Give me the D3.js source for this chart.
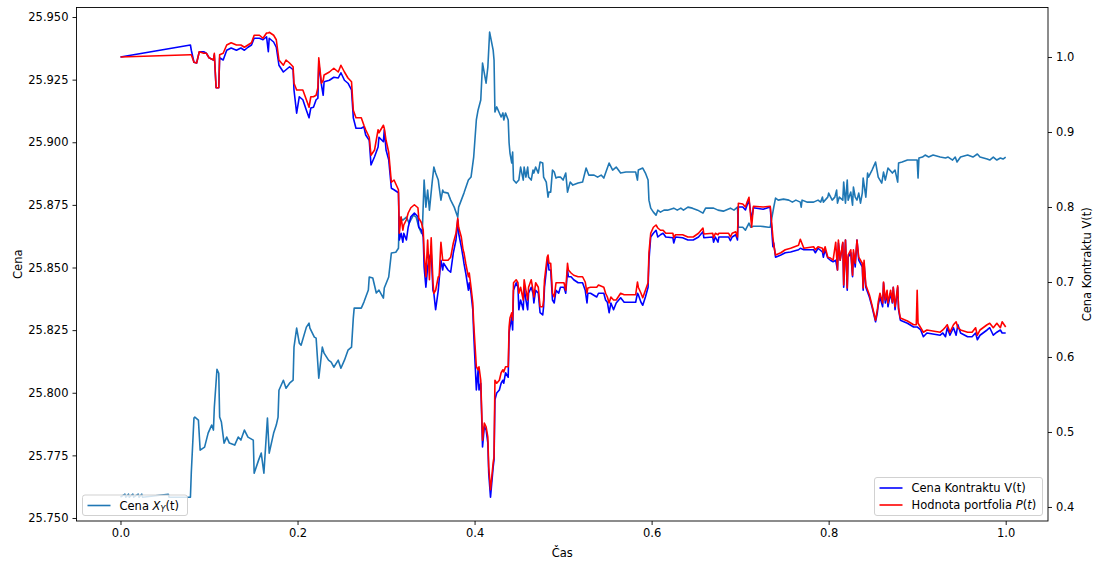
<!DOCTYPE html>
<html>
<head>
<meta charset="utf-8">
<script src="https://cdn.jsdelivr.net/npm/d3@7/dist/d3.min.js"></script>
<style>
  body { margin: 0; background: #fff; }
  svg text { font-family: "DejaVu Sans", sans-serif; font-size: 11.5px; fill: #000; }
</style>
</head>
<body>
<svg id="chart" width="1097" height="565"></svg>
<script>

// Spot price X_Y(t): [time, price] (left axis).
const spotRows = [
  [0.000, 25.7583], [0.005, 25.7595], [0.006, 25.7583], [0.009, 25.7595], [0.010, 25.7583],
  [0.014, 25.7595], [0.015, 25.7583], [0.020, 25.7595], [0.021, 25.7583], [0.024, 25.7595],
  [0.025, 25.7583], [0.054, 25.7595], [0.055, 25.7583], [0.079, 25.7583], [0.080, 25.7683],
  [0.083, 25.7899], [0.084, 25.7903], [0.088, 25.7891], [0.090, 25.7771], [0.095, 25.7783],
  [0.099, 25.7839], [0.103, 25.7871], [0.105, 25.7851], [0.106, 25.7942], [0.109, 25.8094],
  [0.111, 25.8078], [0.112, 25.7903], [0.114, 25.7883], [0.117, 25.7799], [0.120, 25.7823],
  [0.123, 25.7799], [0.129, 25.7791], [0.133, 25.7823], [0.136, 25.7811], [0.140, 25.7851],
  [0.144, 25.7823], [0.150, 25.7811], [0.151, 25.7679], [0.156, 25.7731], [0.159, 25.7759],
  [0.162, 25.7679], [0.166, 25.7899], [0.168, 25.7759], [0.173, 25.7839], [0.176, 25.7871],
  [0.178, 25.7903], [0.179, 25.8010], [0.184, 25.8050], [0.187, 25.8018], [0.191, 25.8038],
  [0.195, 25.8050], [0.196, 25.8182], [0.199, 25.8258], [0.202, 25.8198], [0.204, 25.8190],
  [0.210, 25.8262], [0.213, 25.8278], [0.214, 25.8258], [0.219, 25.8222], [0.221, 25.8218],
  [0.224, 25.8058], [0.228, 25.8182], [0.230, 25.8158], [0.235, 25.8130], [0.238, 25.8122],
  [0.241, 25.8102], [0.246, 25.8130], [0.249, 25.8098], [0.253, 25.8130], [0.257, 25.8170],
  [0.261, 25.8182], [0.263, 25.8298], [0.264, 25.8338], [0.272, 25.8338], [0.275, 25.8362],
  [0.280, 25.8410], [0.281, 25.8462], [0.285, 25.8458], [0.289, 25.8398], [0.292, 25.8410],
  [0.297, 25.8378], [0.298, 25.8418], [0.303, 25.8462], [0.306, 25.8558], [0.311, 25.8561],
  [0.314, 25.8577], [0.315, 25.8701], [0.319, 25.8689], [0.323, 25.8701], [0.326, 25.8677],
  [0.331, 25.8709], [0.334, 25.8701], [0.337, 25.8661], [0.340, 25.8637], [0.341, 25.8649],
  [0.343, 25.8849], [0.345, 25.8741], [0.347, 25.8809], [0.349, 25.8729], [0.352, 25.8837],
  [0.354, 25.8901], [0.356, 25.8877], [0.359, 25.8849], [0.360, 25.8821], [0.362, 25.8769],
  [0.364, 25.8809], [0.365, 25.8801], [0.370, 25.8797], [0.373, 25.8769], [0.377, 25.8741],
  [0.381, 25.8701], [0.382, 25.8741], [0.385, 25.8769], [0.388, 25.8797], [0.393, 25.8849],
  [0.396, 25.8861], [0.399, 25.8941], [0.402, 25.9089], [0.404, 25.9129], [0.407, 25.9169],
  [0.409, 25.9316], [0.411, 25.9276], [0.413, 25.9236], [0.415, 25.9300], [0.417, 25.9440],
  [0.421, 25.9368], [0.422, 25.9328], [0.423, 25.9121], [0.425, 25.9141], [0.428, 25.9117],
  [0.430, 25.9101], [0.432, 25.9117], [0.433, 25.9089], [0.435, 25.9117], [0.438, 25.9089],
  [0.439, 25.8997], [0.440, 25.8957], [0.442, 25.8917], [0.443, 25.8961], [0.444, 25.8849],
  [0.447, 25.8837], [0.450, 25.8849], [0.452, 25.8901], [0.455, 25.8849], [0.456, 25.8901],
  [0.458, 25.8861], [0.460, 25.8901], [0.461, 25.8861], [0.464, 25.8849], [0.466, 25.8889],
  [0.467, 25.8877], [0.469, 25.8901], [0.472, 25.8877], [0.474, 25.8921], [0.477, 25.8917],
  [0.478, 25.8861], [0.481, 25.8841], [0.483, 25.8781], [0.484, 25.8801], [0.486, 25.8801],
  [0.488, 25.8889], [0.490, 25.8881], [0.492, 25.8857], [0.494, 25.8861], [0.497, 25.8861],
  [0.500, 25.8849], [0.503, 25.8877], [0.505, 25.8801], [0.508, 25.8841], [0.511, 25.8829],
  [0.517, 25.8837], [0.522, 25.8841], [0.526, 25.8897], [0.529, 25.8869], [0.535, 25.8869],
  [0.539, 25.8861], [0.543, 25.8869], [0.546, 25.8857], [0.550, 25.8897], [0.552, 25.8917],
  [0.556, 25.8889], [0.560, 25.8901], [0.565, 25.8877], [0.571, 25.8881], [0.582, 25.8881],
  [0.584, 25.8849], [0.585, 25.8889], [0.590, 25.8897], [0.593, 25.8877], [0.596, 25.8849],
  [0.597, 25.8769], [0.599, 25.8737], [0.602, 25.8721], [0.605, 25.8709], [0.607, 25.8729],
  [0.610, 25.8721], [0.614, 25.8729], [0.618, 25.8729], [0.625, 25.8737], [0.629, 25.8729],
  [0.633, 25.8737], [0.636, 25.8729], [0.641, 25.8741], [0.646, 25.8737], [0.652, 25.8729],
  [0.658, 25.8717], [0.661, 25.8737], [0.670, 25.8737], [0.675, 25.8729], [0.681, 25.8725],
  [0.689, 25.8737], [0.693, 25.8729], [0.697, 25.8741], [0.698, 25.8661], [0.703, 25.8661],
  [0.706, 25.8649], [0.710, 25.8677], [0.712, 25.8661], [0.715, 25.8665], [0.723, 25.8665],
  [0.732, 25.8661], [0.734, 25.8661], [0.738, 25.8741], [0.740, 25.8777], [0.743, 25.8769],
  [0.749, 25.8773], [0.755, 25.8769], [0.759, 25.8761], [0.763, 25.8769], [0.768, 25.8761],
  [0.769, 25.8741], [0.770, 25.8769], [0.776, 25.8761], [0.783, 25.8761], [0.788, 25.8769],
  [0.791, 25.8761], [0.793, 25.8781], [0.794, 25.8761], [0.799, 25.8781], [0.800, 25.8797],
  [0.804, 25.8769], [0.807, 25.8781], [0.809, 25.8809], [0.810, 25.8757], [0.812, 25.8781],
  [0.816, 25.8769], [0.817, 25.8841], [0.819, 25.8757], [0.821, 25.8849], [0.822, 25.8769],
  [0.825, 25.8801], [0.827, 25.8749], [0.828, 25.8821], [0.830, 25.8781], [0.832, 25.8769],
  [0.834, 25.8797], [0.836, 25.8757], [0.838, 25.8797], [0.839, 25.8857], [0.842, 25.8781],
  [0.844, 25.8877], [0.845, 25.8861], [0.849, 25.8889], [0.853, 25.8921], [0.855, 25.8881],
  [0.856, 25.8861], [0.860, 25.8837], [0.862, 25.8881], [0.864, 25.8849], [0.867, 25.8897],
  [0.872, 25.8877], [0.875, 25.8889], [0.878, 25.8841], [0.879, 25.8917], [0.883, 25.8921],
  [0.889, 25.8929], [0.895, 25.8929], [0.900, 25.8929], [0.901, 25.8857], [0.902, 25.8937],
  [0.906, 25.8941], [0.909, 25.8949], [0.913, 25.8941], [0.918, 25.8949], [0.926, 25.8941],
  [0.932, 25.8937], [0.935, 25.8941], [0.940, 25.8929], [0.943, 25.8941], [0.945, 25.8921],
  [0.949, 25.8941], [0.957, 25.8949], [0.963, 25.8941], [0.968, 25.8953], [0.971, 25.8941],
  [0.979, 25.8933], [0.982, 25.8929], [0.986, 25.8941], [0.990, 25.8929], [0.994, 25.8937],
  [0.997, 25.8933], [1.000, 25.8941]
]

// Contract V(t) and portfolio P(t): [time, V, P] (right axis).
const contractRows = [
  [0.000, 1.000, 1.000], [0.079, 1.016, 1.003], [0.080, 1.009, 1.003], [0.083, 0.993, 0.993],
  [0.086, 0.992, 0.992], [0.089, 1.007, 1.007], [0.094, 1.007, 1.005], [0.097, 1.005, 1.005],
  [0.100, 0.999, 0.999], [0.105, 0.996, 0.996], [0.106, 1.003, 1.005], [0.108, 0.959, 0.959],
  [0.111, 0.959, 0.959], [0.112, 0.999, 1.003], [0.116, 0.996, 1.005], [0.120, 1.009, 1.016],
  [0.125, 1.012, 1.019], [0.131, 1.009, 1.016], [0.136, 1.012, 1.016], [0.140, 1.009, 1.013],
  [0.144, 1.013, 1.016], [0.148, 1.016, 1.019], [0.151, 1.025, 1.029], [0.157, 1.025, 1.029],
  [0.161, 1.023, 1.025], [0.165, 1.027, 1.032], [0.167, 1.007, 1.032], [0.168, 1.025, 1.033],
  [0.173, 1.020, 1.029], [0.176, 1.013, 1.023], [0.179, 0.989, 0.996], [0.184, 0.980, 0.989],
  [0.187, 0.983, 0.996], [0.191, 0.987, 0.992], [0.195, 0.983, 0.987], [0.196, 0.956, 0.965],
  [0.199, 0.925, 0.956], [0.202, 0.947, 0.956], [0.206, 0.943, 0.956], [0.210, 0.929, 0.943],
  [0.213, 0.919, 0.933], [0.215, 0.932, 0.947], [0.218, 0.933, 0.947], [0.221, 0.943, 0.949],
  [0.223, 0.945, 0.959], [0.224, 0.992, 0.999], [0.227, 0.963, 0.965], [0.229, 0.949, 0.969],
  [0.230, 0.967, 0.976], [0.236, 0.969, 0.980], [0.241, 0.973, 0.985], [0.246, 0.972, 0.980],
  [0.249, 0.979, 0.989], [0.253, 0.969, 0.980], [0.257, 0.965, 0.972], [0.261, 0.956, 0.967],
  [0.263, 0.919, 0.929], [0.266, 0.905, 0.919], [0.272, 0.905, 0.919], [0.275, 0.907, 0.909],
  [0.277, 0.896, 0.903], [0.281, 0.889, 0.893], [0.283, 0.856, 0.869], [0.287, 0.867, 0.876],
  [0.291, 0.880, 0.903], [0.292, 0.893, 0.899], [0.297, 0.887, 0.909], [0.298, 0.903, 0.905],
  [0.300, 0.876, 0.889], [0.303, 0.863, 0.873], [0.306, 0.825, 0.833], [0.309, 0.823, 0.836],
  [0.314, 0.819, 0.823], [0.315, 0.756, 0.765], [0.317, 0.765, 0.787], [0.319, 0.753, 0.769],
  [0.320, 0.765, 0.776], [0.323, 0.756, 0.783], [0.325, 0.773, 0.792], [0.328, 0.787, 0.799],
  [0.332, 0.792, 0.803], [0.336, 0.787, 0.799], [0.337, 0.773, 0.785], [0.340, 0.769, 0.779],
  [0.342, 0.760, 0.769], [0.343, 0.720, 0.739], [0.345, 0.693, 0.707], [0.347, 0.720, 0.756],
  [0.349, 0.733, 0.703], [0.351, 0.739, 0.759], [0.353, 0.689, 0.699], [0.354, 0.685, 0.685],
  [0.356, 0.663, 0.689], [0.359, 0.689, 0.707], [0.360, 0.703, 0.707], [0.362, 0.729, 0.753],
  [0.364, 0.716, 0.729], [0.365, 0.725, 0.729], [0.370, 0.716, 0.729], [0.373, 0.713, 0.733],
  [0.376, 0.739, 0.752], [0.379, 0.756, 0.765], [0.381, 0.783, 0.785], [0.382, 0.765, 0.773],
  [0.385, 0.747, 0.760], [0.387, 0.733, 0.743], [0.388, 0.725, 0.739], [0.390, 0.712, 0.725],
  [0.393, 0.689, 0.707], [0.394, 0.699, 0.712], [0.396, 0.685, 0.693], [0.398, 0.663, 0.672],
  [0.399, 0.632, 0.645], [0.402, 0.556, 0.587], [0.404, 0.583, 0.583], [0.405, 0.556, 0.587],
  [0.407, 0.565, 0.569], [0.409, 0.480, 0.489], [0.411, 0.507, 0.512], [0.413, 0.503, 0.507],
  [0.415, 0.485, 0.493], [0.416, 0.445, 0.453], [0.418, 0.413, 0.423], [0.421, 0.453, 0.459],
  [0.422, 0.463, 0.467], [0.423, 0.543, 0.569], [0.425, 0.552, 0.565], [0.428, 0.556, 0.569],
  [0.430, 0.565, 0.579], [0.432, 0.569, 0.583], [0.433, 0.565, 0.580], [0.435, 0.579, 0.587],
  [0.438, 0.573, 0.587], [0.439, 0.632, 0.640], [0.440, 0.640, 0.652], [0.442, 0.653, 0.659],
  [0.443, 0.636, 0.649], [0.444, 0.689, 0.699], [0.447, 0.699, 0.703], [0.449, 0.693, 0.699],
  [0.450, 0.663, 0.685], [0.452, 0.676, 0.693], [0.455, 0.663, 0.676], [0.456, 0.693, 0.703],
  [0.458, 0.676, 0.689], [0.460, 0.663, 0.676], [0.461, 0.685, 0.693], [0.464, 0.693, 0.703],
  [0.466, 0.685, 0.689], [0.467, 0.672, 0.680], [0.469, 0.689, 0.699], [0.472, 0.685, 0.693],
  [0.474, 0.659, 0.667], [0.477, 0.656, 0.667], [0.478, 0.667, 0.676], [0.479, 0.693, 0.703],
  [0.482, 0.725, 0.733], [0.483, 0.733, 0.736], [0.484, 0.716, 0.725], [0.486, 0.716, 0.725],
  [0.488, 0.676, 0.685], [0.490, 0.672, 0.680], [0.492, 0.689, 0.699], [0.495, 0.685, 0.699],
  [0.497, 0.693, 0.699], [0.501, 0.693, 0.699], [0.503, 0.685, 0.689], [0.505, 0.716, 0.725],
  [0.506, 0.707, 0.716], [0.509, 0.707, 0.712], [0.512, 0.703, 0.709], [0.517, 0.699, 0.707],
  [0.522, 0.699, 0.707], [0.525, 0.689, 0.700], [0.527, 0.672, 0.685], [0.528, 0.685, 0.692],
  [0.531, 0.685, 0.693], [0.538, 0.680, 0.693], [0.540, 0.685, 0.696], [0.546, 0.685, 0.693],
  [0.548, 0.676, 0.685], [0.550, 0.673, 0.680], [0.552, 0.659, 0.672], [0.554, 0.672, 0.680],
  [0.557, 0.663, 0.676], [0.560, 0.672, 0.676], [0.565, 0.679, 0.685], [0.569, 0.673, 0.683],
  [0.582, 0.673, 0.683], [0.584, 0.685, 0.700], [0.585, 0.683, 0.693], [0.588, 0.673, 0.685],
  [0.590, 0.669, 0.679], [0.593, 0.680, 0.689], [0.596, 0.693, 0.699], [0.597, 0.729, 0.739],
  [0.599, 0.760, 0.765], [0.602, 0.765, 0.773], [0.605, 0.769, 0.776], [0.607, 0.760, 0.772],
  [0.610, 0.763, 0.769], [0.613, 0.765, 0.769], [0.616, 0.760, 0.765], [0.624, 0.759, 0.765],
  [0.625, 0.752, 0.759], [0.627, 0.760, 0.763], [0.635, 0.759, 0.763], [0.641, 0.756, 0.760],
  [0.647, 0.756, 0.760], [0.653, 0.760, 0.765], [0.658, 0.767, 0.772], [0.659, 0.759, 0.764],
  [0.669, 0.760, 0.765], [0.670, 0.753, 0.759], [0.672, 0.760, 0.765], [0.675, 0.753, 0.763],
  [0.676, 0.760, 0.765], [0.687, 0.760, 0.765], [0.689, 0.755, 0.760], [0.691, 0.760, 0.765],
  [0.695, 0.763, 0.767], [0.697, 0.756, 0.760], [0.698, 0.800, 0.805], [0.703, 0.800, 0.804],
  [0.706, 0.796, 0.800], [0.708, 0.803, 0.807], [0.710, 0.809, 0.813], [0.713, 0.783, 0.773],
  [0.715, 0.799, 0.801], [0.726, 0.797, 0.800], [0.734, 0.800, 0.801], [0.737, 0.747, 0.760],
  [0.738, 0.752, 0.749], [0.740, 0.733, 0.736], [0.746, 0.736, 0.739], [0.751, 0.739, 0.743],
  [0.757, 0.740, 0.745], [0.766, 0.743, 0.749], [0.768, 0.745, 0.757], [0.772, 0.743, 0.745],
  [0.783, 0.743, 0.747], [0.785, 0.739, 0.743], [0.788, 0.745, 0.747], [0.793, 0.740, 0.745],
  [0.794, 0.733, 0.739], [0.796, 0.743, 0.747], [0.799, 0.732, 0.733], [0.802, 0.729, 0.732],
  [0.805, 0.727, 0.729], [0.808, 0.729, 0.753], [0.810, 0.716, 0.716], [0.811, 0.752, 0.756],
  [0.813, 0.729, 0.729], [0.816, 0.752, 0.753], [0.817, 0.693, 0.696], [0.819, 0.756, 0.756],
  [0.821, 0.689, 0.692], [0.822, 0.733, 0.736], [0.825, 0.739, 0.743], [0.827, 0.707, 0.709],
  [0.828, 0.739, 0.743], [0.830, 0.720, 0.725], [0.832, 0.756, 0.756], [0.834, 0.729, 0.733],
  [0.838, 0.720, 0.725], [0.839, 0.689, 0.692], [0.840, 0.725, 0.729], [0.842, 0.693, 0.696],
  [0.846, 0.680, 0.683], [0.849, 0.667, 0.669], [0.853, 0.647, 0.649], [0.855, 0.659, 0.663],
  [0.856, 0.669, 0.673], [0.858, 0.680, 0.685], [0.861, 0.667, 0.672], [0.862, 0.699, 0.700],
  [0.864, 0.672, 0.676], [0.866, 0.685, 0.689], [0.867, 0.667, 0.672], [0.870, 0.685, 0.689],
  [0.872, 0.672, 0.673], [0.873, 0.693, 0.693], [0.875, 0.663, 0.667], [0.878, 0.693, 0.695],
  [0.879, 0.663, 0.665], [0.881, 0.649, 0.652], [0.889, 0.645, 0.648], [0.896, 0.640, 0.643],
  [0.899, 0.640, 0.643], [0.900, 0.640, 0.689], [0.901, 0.639, 0.645], [0.904, 0.636, 0.639],
  [0.907, 0.627, 0.633], [0.911, 0.632, 0.636], [0.926, 0.629, 0.633], [0.929, 0.632, 0.636],
  [0.932, 0.627, 0.640], [0.934, 0.639, 0.643], [0.937, 0.629, 0.633], [0.941, 0.639, 0.643],
  [0.944, 0.629, 0.647], [0.946, 0.643, 0.639], [0.949, 0.632, 0.636], [0.957, 0.627, 0.633],
  [0.962, 0.627, 0.633], [0.966, 0.632, 0.639], [0.968, 0.623, 0.629], [0.971, 0.629, 0.636],
  [0.979, 0.636, 0.643], [0.982, 0.639, 0.645], [0.986, 0.629, 0.639], [0.990, 0.633, 0.645],
  [0.994, 0.636, 0.639], [0.996, 0.632, 0.647], [1.000, 0.632, 0.640]
]

// Tick values.
const timeTicks = [0.0, 0.2, 0.4, 0.6, 0.8, 1.0]
const priceTicks = [25.750, 25.775, 25.800, 25.825, 25.850, 25.875, 25.900, 25.925, 25.950]
const contractTicks = [0.4, 0.5, 0.6, 0.7, 0.8, 0.9, 1.0]

// Frame.
const frameLeft = 76.5, frameRight = 1048, frameTop = 7.5, frameBottom = 521

const svg = d3.select('#chart')

const x = d3.scaleLinear().domain([-0.0497, 1.0478]).range([frameLeft, frameRight])
const yLeft = d3.scaleLinear().domain([25.7488, 25.9538]).range([frameBottom, frameTop])
const yRight = d3.scaleLinear().domain([0.3813, 1.066]).range([frameBottom, frameTop])

// Clip for the lines.
svg.append('defs').append('clipPath').attr('id', 'plot')
  .append('rect')
    .attr('x', frameLeft).attr('y', frameTop)
    .attr('width', frameRight - frameLeft).attr('height', frameBottom - frameTop)

// Spot price line (first axes).
const spotLine = d3.line()
  .x(function(d) { return x(d[0]) })
  .y(function(d) { return yLeft(d[1]) })

svg.append('path')
  .datum(spotRows)
  .attr('clip-path', 'url(#plot)')
  .attr('d', spotLine)
  .attr('fill', 'none')
  .attr('stroke', '#1f77b4')
  .attr('stroke-width', 1.6)
  .attr('stroke-linejoin', 'round')

// Legend of the first axes.
const legendLeft = svg.append('g')
legendLeft.append('rect')
  .attr('x', 82.5).attr('y', 495).attr('width', 105).attr('height', 20.5)
  .attr('rx', 2.5)
  .attr('fill', 'white').attr('fill-opacity', 0.8)
  .attr('stroke', '#cccccc').attr('stroke-width', 0.9)
legendLeft.append('line')
  .attr('x1', 87.5).attr('x2', 110.5).attr('y1', 505.5).attr('y2', 505.5)
  .attr('stroke', '#1f77b4').attr('stroke-width', 1.6)
const spotLabel = legendLeft.append('text').attr('x', 119.5).attr('y', 509.5)
spotLabel.append('tspan').text('Cena ')
spotLabel.append('tspan').attr('font-style', 'italic').text('X')
spotLabel.append('tspan').attr('font-style', 'italic').attr('font-size', '8px').attr('dy', 2).text('Y')
spotLabel.append('tspan').attr('dy', -2).text('(t)')

// Contract and portfolio lines (second axes, drawn on top).
const contractLine = d3.line()
  .x(function(d) { return x(d[0]) })
  .y(function(d) { return yRight(d[1]) })

const portfolioLine = d3.line()
  .x(function(d) { return x(d[0]) })
  .y(function(d) { return yRight(d[2]) })

svg.append('path')
  .datum(contractRows)
  .attr('clip-path', 'url(#plot)')
  .attr('d', contractLine)
  .attr('fill', 'none')
  .attr('stroke', 'blue')
  .attr('stroke-width', 1.6)
  .attr('stroke-linejoin', 'round')

svg.append('path')
  .datum(contractRows)
  .attr('clip-path', 'url(#plot)')
  .attr('d', portfolioLine)
  .attr('fill', 'none')
  .attr('stroke', 'red')
  .attr('stroke-width', 1.6)
  .attr('stroke-linejoin', 'round')

// Axes.
const bottomAxis = d3.axisBottom(x).tickValues(timeTicks).tickFormat(d3.format('.1f'))
  .tickSizeOuter(0).tickSize(4).tickPadding(4)
const leftAxis = d3.axisLeft(yLeft).tickValues(priceTicks).tickFormat(d3.format('.3f'))
  .tickSizeOuter(0).tickSize(4).tickPadding(4)
const rightAxis = d3.axisRight(yRight).tickValues(contractTicks).tickFormat(d3.format('.1f'))
  .tickSizeOuter(0).tickSize(4).tickPadding(4)

function styleAxis(g) {
  g.select('.domain').remove()
  g.selectAll('.tick line').attr('stroke', '#000').attr('stroke-width', 0.9)
  g.selectAll('.tick text').attr('font-family', '"DejaVu Sans", sans-serif').attr('font-size', '11.5px').attr('fill', '#000')
}

svg.append('g').attr('transform', 'translate(0,' + frameBottom + ')').call(bottomAxis).call(styleAxis)
svg.append('g').attr('transform', 'translate(' + frameLeft + ',0)').call(leftAxis).call(styleAxis)
svg.append('g').attr('transform', 'translate(' + frameRight + ',0)').call(rightAxis).call(styleAxis)

// Spines.
svg.append('rect')
  .attr('x', frameLeft).attr('y', frameTop)
  .attr('width', frameRight - frameLeft).attr('height', frameBottom - frameTop)
  .attr('fill', 'none').attr('stroke', '#000').attr('stroke-width', 0.9)

// Legend of the second axes.
const legendRight = svg.append('g')
legendRight.append('rect')
  .attr('x', 874.5).attr('y', 477.5).attr('width', 168).attr('height', 38)
  .attr('rx', 2.5)
  .attr('fill', 'white').attr('fill-opacity', 0.8)
  .attr('stroke', '#cccccc').attr('stroke-width', 0.9)
legendRight.append('line')
  .attr('x1', 879.5).attr('x2', 902.5).attr('y1', 488).attr('y2', 488)
  .attr('stroke', 'blue').attr('stroke-width', 1.6)
legendRight.append('text').attr('x', 911.5).attr('y', 492).text('Cena Kontraktu V(t)')
legendRight.append('line')
  .attr('x1', 879.5).attr('x2', 902.5).attr('y1', 505).attr('y2', 505)
  .attr('stroke', 'red').attr('stroke-width', 1.6)
const portLabel = legendRight.append('text').attr('x', 911.5).attr('y', 509)
portLabel.append('tspan').text('Hodnota portfolia ')
portLabel.append('tspan').attr('font-style', 'italic').text('P')
portLabel.append('tspan').text('(')
portLabel.append('tspan').attr('font-style', 'italic').text('t')
portLabel.append('tspan').text(')')

// Axis titles.
svg.append('text')
  .attr('x', (frameLeft + frameRight) / 2).attr('y', 557)
  .attr('text-anchor', 'middle')
  .text('Čas')

svg.append('text')
  .attr('transform', 'translate(22,' + ((frameTop + frameBottom) / 2) + ') rotate(-90)')
  .attr('text-anchor', 'middle')
  .text('Cena')

svg.append('text')
  .attr('transform', 'translate(1091,' + ((frameTop + frameBottom) / 2) + ') rotate(-90)')
  .attr('text-anchor', 'middle')
  .text('Cena Kontraktu V(t)')

</script>
</body>
</html>
